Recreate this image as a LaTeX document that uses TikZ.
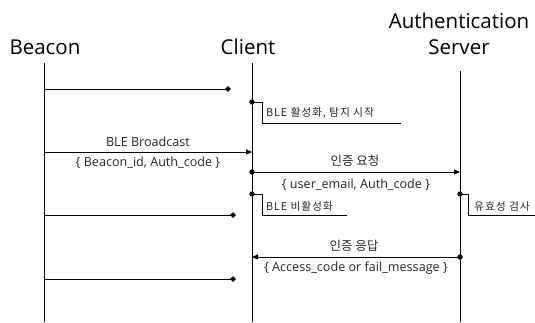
\documentclass[tikz,border=0pt]{standalone}
\usepackage{fontspec}
\setmainfont{Open Sans}
\newfontfamily\kr{Noto Sans CJK KR}
\newfontfamily\krnote{Noto Sans CJK KR}[LetterSpace=8]
\usetikzlibrary{arrows.meta}
\tikzset{
  head/.style={font=\fontsize{20.5}{22}\selectfont, inner sep=0pt, anchor=base},
  lbl/.style={font=\fontsize{12.6}{14}\selectfont, inner sep=0pt, text=black!85},
  krlbl/.style={font=\kr\fontsize{12.5}{14}\selectfont, inner sep=0pt, text=black!85},
  note/.style={font=\krnote\fontsize{10.8}{12}\selectfont, inner sep=0pt, anchor=west, text=black!85},
  life/.style={line width=0.9pt},
  msg/.style={line width=0.9pt},
  tomsg/.style={msg, -{Triangle[length=6pt,width=5pt]}},
  todot/.style={msg, -{Turned Square[length=6pt,width=5.5pt]}},
  dotmark/.style={fill=black}
}
\begin{document}
\begin{tikzpicture}[x=1pt,y=-1pt]
\useasboundingbox (0,0) rectangle (535,322);
\fill[white] (0,0) rectangle (535,322);

% participants
\node[head] (beacon) at (45,54) {Beacon};
\node[head] (client) at (248,54) {Client};
\node[head] (auth) at (459,28) {Authentication};
\node[head] (server) at (459,54) {Server};

% lifelines
\coordinate (bt) at (44,63);  \coordinate (bb) at (44,322);
\coordinate (ct) at (252,63); \coordinate (cb) at (252,322);
\coordinate (st) at (460,71); \coordinate (sb) at (460,322);
\draw[life] (bt) -- (bb);
\draw[life] (ct) -- (cb);
\draw[life] (st) -- (sb);

% beacon pulse
\coordinate (b1) at (44,89);  \coordinate (c1) at (231,89);
\draw[todot] (b1) -- (c1);

% client: BLE on
\coordinate (c2) at (252,102); \coordinate (c2a) at (262,102);
\coordinate (c2b) at (262,123); \coordinate (c2c) at (401,123);
\draw[msg] (c2) -- (c2a) -- (c2b) -- (c2c);
\fill[dotmark] (c2) circle (2.7);
\node[note] (n1) at (266,113) {BLE 활성화, 탐지 시작};

% BLE broadcast
\coordinate (b3) at (44,152); \coordinate (c3) at (252,152);
\draw[tomsg] (b3) -- (c3);
\node[lbl] (l3a) at (148,142) {BLE Broadcast};
\node[lbl] (l3b) at (148,163) {\{ Beacon\_id, Auth\_code \}};

% authentication request
\coordinate (c4) at (252,172); \coordinate (s4) at (460,172);
\draw[tomsg] (c4) -- (s4);
\fill[dotmark] (c4) circle (2.7);
\node[krlbl] (l4a) at (355,161) {인증 요청};
\node[lbl] (l4b) at (356,185) {\{ user\_email, Auth\_code \}};

% client: BLE off
\coordinate (c5) at (252,194); \coordinate (c5a) at (262,194);
\coordinate (c5b) at (262,215); \coordinate (c5c) at (347,215);
\draw[msg] (c5) -- (c5a) -- (c5b) -- (c5c);
\fill[dotmark] (c5) circle (2.7);
\node[note] (n5) at (266,206) {BLE 비활성화};

% server: validation
\coordinate (s6) at (460,194); \coordinate (s6a) at (468,194);
\coordinate (s6b) at (468,215); \coordinate (s6c) at (535,215);
\draw[msg] (s6) -- (s6a) -- (s6b) -- (s6c);
\fill[dotmark] (s6) circle (2.7);
\node[note] (n6) at (474,206) {유효성 검사};

% beacon pulse
\coordinate (b7) at (44,215); \coordinate (c7) at (236,215);
\draw[todot] (b7) -- (c7);

% authentication response
\coordinate (s8) at (460,257); \coordinate (c8) at (252,257);
\draw[tomsg] (s8) -- (c8);
\fill[dotmark] (s8) circle (2.7);
\node[krlbl] (l8a) at (354,246) {인증 응답};
\node[lbl] (l8b) at (356,268) {\{ Access\_code or fail\_message \}};

% beacon pulse
\coordinate (b9) at (44,279); \coordinate (c9) at (236,279);
\draw[todot] (b9) -- (c9);
\end{tikzpicture}
\end{document}
